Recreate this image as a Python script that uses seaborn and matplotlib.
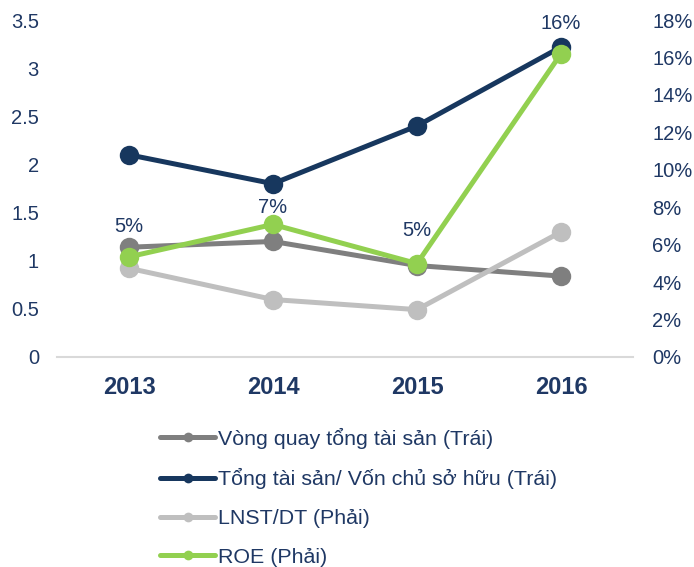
"""
Chỉ số tài chính 2013-2016: hai trục (trái: lần, phải: %).
"""

import matplotlib.pyplot as plt
import pandas as pd
import seaborn as sns

# data
years = ["2013", "2014", "2015", "2016"]
vong_quay_ts = [1.14, 1.20, 0.95, 0.84]
ts_tren_vcsh = [2.10, 1.80, 2.40, 3.22]
lnst_dt = [0.0474, 0.0307, 0.0253, 0.0668]
roe = [0.0535, 0.0708, 0.0499, 0.162]
roe_labels = ["5%", "7%", "5%", "16%"]

series_left = ["Vòng quay tổng tài sản (Trái)", "Tổng tài sản/ Vốn chủ sở hữu (Trái)"]
series_right = ["LNST/DT (Phải)", "ROE (Phải)"]
left_ticks = [0, 0.5, 1, 1.5, 2, 2.5, 3, 3.5]
right_ticks = [0, 0.02, 0.04, 0.06, 0.08, 0.10, 0.12, 0.14, 0.16, 0.18]

df_left = pd.DataFrame({
    "year": years * 2,
    "value": vong_quay_ts + ts_tren_vcsh,
    "series": [series_left[0]] * 4 + [series_left[1]] * 4,
})
df_right = pd.DataFrame({
    "year": years * 2,
    "value": lnst_dt + roe,
    "series": [series_right[0]] * 4 + [series_right[1]] * 4,
})

TEXT = "#1F3864"
colors_left = {series_left[0]: "#7F7F7F", series_left[1]: "#17375E"}
colors_right = {series_right[0]: "#BFBFBF", series_right[1]: "#92D050"}

sns.set_theme(style="white")
plt.rcParams["font.family"] = ["Liberation Sans", "DejaVu Sans"]

fig = plt.figure(figsize=(6.94, 5.67), dpi=100)
ax = fig.add_axes([57 / 694, 1 - 357 / 567, 576 / 694, 337 / 567])

line_kw = {"linewidth": 3.6, "marker": "o", "markersize": 14, "markeredgewidth": 0}
sns.lineplot(data=df_left, x="year", y="value", hue="series", palette=colors_left,
             hue_order=series_left, ax=ax, legend=False, **line_kw)

ax2 = ax.twinx()
sns.lineplot(data=df_right, x="year", y="value", hue="series", palette=colors_right,
             hue_order=series_right, ax=ax2, legend=False, **line_kw)

# ROE data labels
offsets = [21.5, 12.5, 23.5, 21.5]
for i, (val, lab) in enumerate(zip(roe, roe_labels)):
    ax2.annotate(lab, (i, val), xytext=(0, offsets[i]), textcoords="offset points",
                 ha="center", va="center", fontsize=14.5, color=TEXT)

ax.set_xlim(-0.5, 3.5)
ax.set_ylim(0, 3.5)
ax2.set_ylim(0, 0.18)
ax.set_yticks(left_ticks)
ax.set_yticklabels([f"{t:g}" for t in left_ticks])
ax2.set_yticks(right_ticks)
ax2.set_yticklabels([f"{t * 100:.0f}%" for t in right_ticks])
ax.set_xlabel("")
ax.set_ylabel("")
ax2.set_ylabel("")

ax.tick_params(axis="y", length=0, pad=13, labelsize=14.5, labelcolor=TEXT)
ax2.tick_params(axis="y", length=0, pad=14, labelsize=14.5, labelcolor=TEXT)
ax.tick_params(axis="x", length=0, pad=14, labelsize=17, labelcolor=TEXT)
for t in ax.get_xticklabels():
    t.set_fontweight("bold")

for name in ["top", "left", "right"]:
    ax.spines[name].set_visible(False)
for s in ax2.spines.values():
    s.set_visible(False)
ax.spines["bottom"].set_color("#D9D9D9")
ax.spines["bottom"].set_linewidth(1.5)
ax.grid(False)
ax2.grid(False)

handles = ax.lines + ax2.lines
labels = series_left + series_right
leg = fig.legend(handles, labels, loc="upper left", bbox_to_anchor=(149 / 694, 1 - 417 / 567),
                 frameon=False, fontsize=15.4, labelcolor=TEXT, handlelength=2.6,
                 handletextpad=0.12, labelspacing=0.92, borderpad=0)
for h in leg.legend_handles:
    h.set_markersize(7)

plt.savefig("out.png", dpi=100)
